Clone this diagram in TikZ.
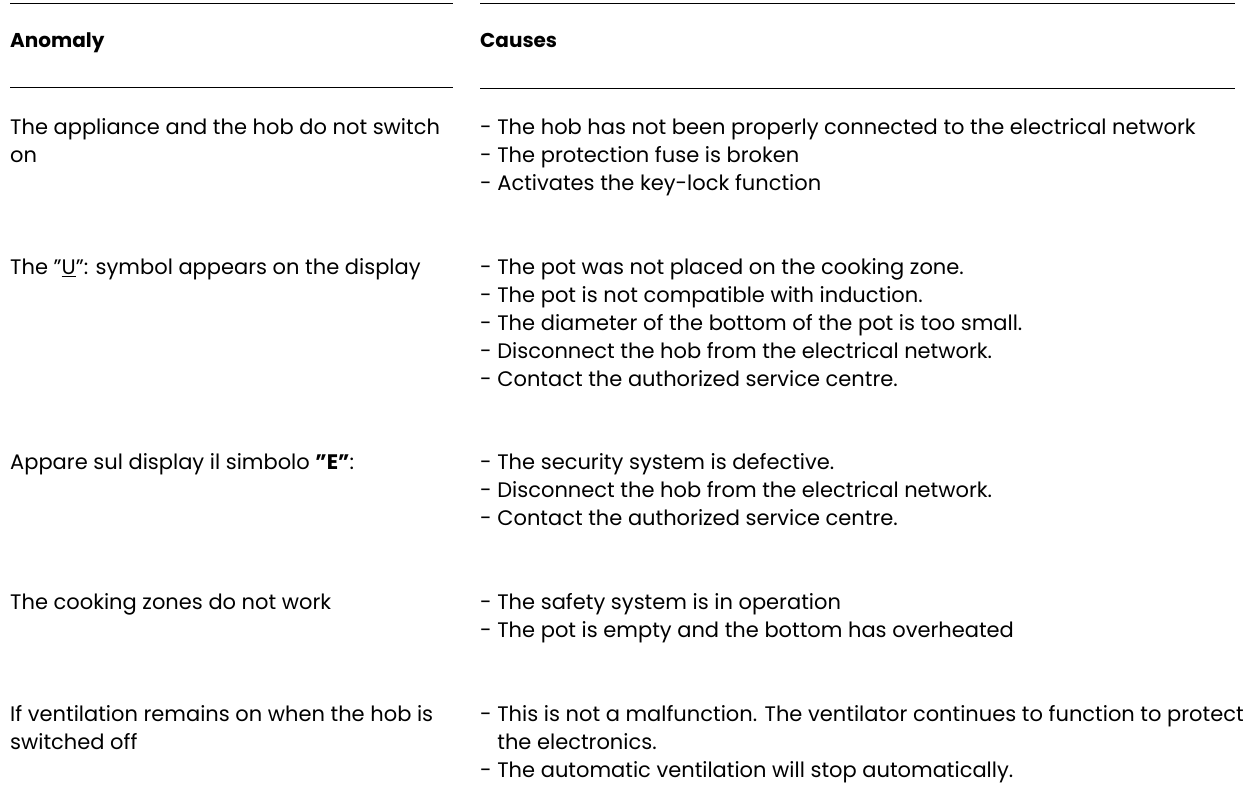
\documentclass[tikz,border=0pt]{standalone}
\usepackage{fontspec}
\setmainfont{Poppins}
\begin{document}
\begin{tikzpicture}[x=1pt,y=-1pt,
  txt/.style={anchor=mid west,inner sep=0pt,font=\fontsize{21}{28}\selectfont,align=left},
  hd/.style={txt,font=\fontsize{20}{28}\selectfont\bfseries},
  rule/.style={line width=0.8pt}]
\useasboundingbox (0,0) rectangle (1255,799);
\draw[rule] (10,3) -- (453,3); \draw[rule] (480,3) -- (1235,3);
\draw[rule] (10,87) -- (453,87); \draw[rule] (480,88) -- (1235,88);
\node[hd] (h1) at (10,45) {Anomaly};
\node[hd] (h2) at (480,45) {Causes};
\node[txt,anchor=north west] (a1) at (10,118) {The appliance and the hob do not switch\\on};
\node[txt,anchor=north west] (c1) at (480,118) {- The hob has not been properly connected to the electrical network\\- The protection fuse is broken\\- Activates the key-lock function};
\node[txt,anchor=north west] (a2) at (10,258) {The ''\underline{U}'': symbol appears on the display};
\node[txt,anchor=north west] (c2) at (480,258) {- The pot was not placed on the cooking zone.\\- The pot is not compatible with induction.\\- The diameter of the bottom of the pot is too small.\\- Disconnect the hob from the electrical network.\\- Contact the authorized service centre.};
\node[txt,anchor=north west] (a3) at (10,453) {Appare sul display il simbolo \textbf{''E''}:};
\node[txt,anchor=north west] (c3) at (480,453) {- The security system is defective.\\- Disconnect the hob from the electrical network.\\- Contact the authorized service centre.};
\node[txt,anchor=north west] (a4) at (10,593) {The cooking zones do not work};
\node[txt,anchor=north west] (c4) at (480,593) {- The safety system is in operation\\- The pot is empty and the bottom has overheated};
\node[txt,anchor=north west] (a5) at (10,705) {If ventilation remains on when the hob is\\switched off};
\node[txt,anchor=north west] (c5) at (480,705) {- This is not a malfunction. The ventilator continues to function to protect\\\phantom{- }the electronics.\\- The automatic ventilation will stop automatically.};
\end{tikzpicture}
\end{document}
